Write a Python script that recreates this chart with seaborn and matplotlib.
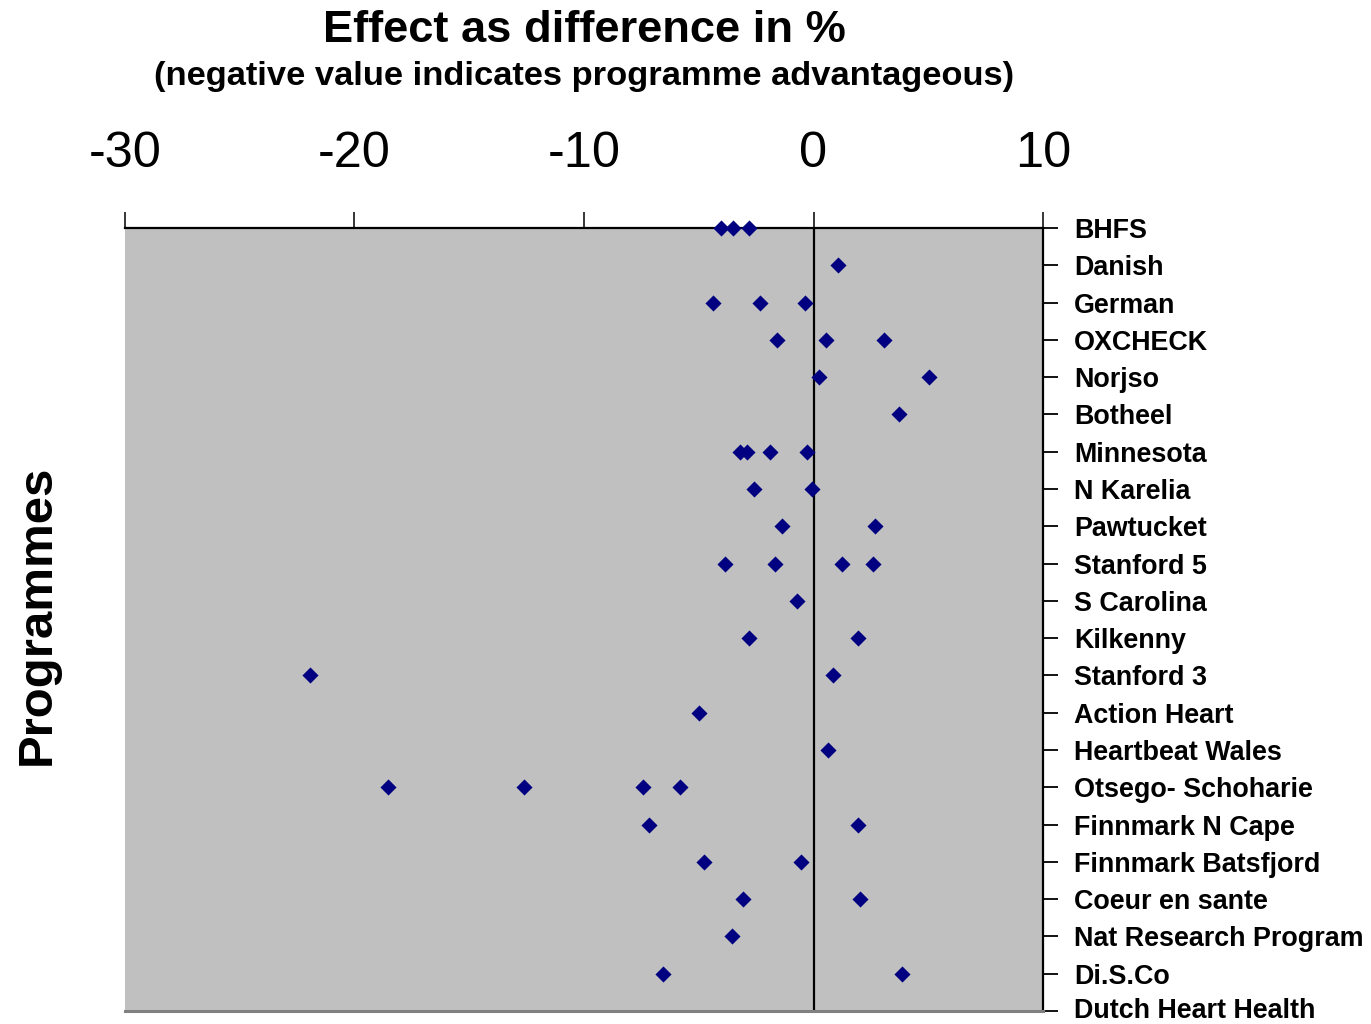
import matplotlib
matplotlib.use("Agg")
import matplotlib.pyplot as plt
import matplotlib.transforms as mtrans
import seaborn as sns
import pandas as pd

programmes = ["BHFS", "Danish", "German", "OXCHECK", "Norjso", "Botheel",
              "Minnesota", "N Karelia", "Pawtucket", "Stanford 5", "S Carolina",
              "Kilkenny", "Stanford 3", "Action Heart", "Heartbeat Wales",
              "Otsego- Schoharie", "Finnmark N Cape", "Finnmark Batsfjord",
              "Coeur en sante", "Nat Research Program", "Di.S.Co",
              "Dutch Heart Health"]

point_programme = (["BHFS"] * 3 + ["Danish"] + ["German"] * 3 + ["OXCHECK"] * 3
                   + ["Norjso"] * 2 + ["Botheel"] + ["Minnesota"] * 4
                   + ["N Karelia"] * 2 + ["Pawtucket"] * 2 + ["Stanford 5"] * 4
                   + ["S Carolina"] + ["Kilkenny"] * 2 + ["Stanford 3"] * 2
                   + ["Action Heart"] + ["Heartbeat Wales"]
                   + ["Otsego- Schoharie"] * 4 + ["Finnmark N Cape"] * 2
                   + ["Finnmark Batsfjord"] * 2 + ["Coeur en sante"] * 2
                   + ["Nat Research Program"] + ["Di.S.Co"] * 2)

point_value = [-4.03, -3.51, -2.79,
               1.05,
               -4.38, -2.34, -0.38,
               -1.60, 0.54, 3.09,
               0.22, 5.04,
               3.73,
               -3.22, -2.90, -1.89, -0.29,
               -2.61, -0.06,
               -1.38, 2.67,
               -3.86, -1.68, 1.25, 2.59,
               -0.72,
               -2.79, 1.92,
               -21.94, 0.87,
               -5.01,
               0.62,
               -18.52, -12.62, -7.43, -5.82,
               -7.16, 1.93,
               -4.78, -0.53,
               -3.07, 2.02,
               -3.57,
               -6.57, 3.85]

x_ticks = [-30, -20, -10, 0, 10]

df = pd.DataFrame({"Programme": point_programme, "Effect": point_value})

sns.set_style("white")
plt.rcParams["font.family"] = ["Liberation Sans", "DejaVu Sans"]
plt.rcParams["text.color"] = "black"
plt.rcParams["xtick.color"] = "black"
plt.rcParams["ytick.color"] = "black"
plt.rcParams["xtick.labelcolor"] = "black"
plt.rcParams["ytick.labelcolor"] = "black"

W, H = 1371, 1024
fig = plt.figure(figsize=(W / 100, H / 100), dpi=100)
ax = fig.add_axes([125 / W, 13 / H, 918 / W, 783 / H])
ax.set_facecolor("#C0C0C0")

sns.stripplot(data=df, x="Effect", y="Programme", order=programmes,
              orient="h", jitter=False, marker="D", s=8.2,
              color="#000080", linewidth=0, ax=ax, zorder=5)
for c in ax.collections:
    c.set_clip_on(False)

ax.axvline(0, color="black", lw=1.6, zorder=2)

ax.set_xlim(-30, 10)
ax.set_ylim(len(programmes) - 1, 0)
ax.set_xticks(x_ticks)
ax.set_xticklabels([str(v) for v in x_ticks])
ax.xaxis.tick_top()
ax.yaxis.tick_right()
ax.set_xlabel("")
ax.set_ylabel("")

ax.tick_params(axis="x", direction="out", length=11.5, width=1.1,
               color="black", labelcolor="black", pad=25, labelsize=36)
ax.tick_params(axis="y", direction="out", length=10.5, width=1.3,
               color="black", labelcolor="black", pad=12, labelsize=19.5)
for lab in ax.get_yticklabels():
    lab.set_fontweight("bold")

ax.spines["left"].set_visible(False)
ax.spines["bottom"].set_color("#808080")
ax.spines["bottom"].set_linewidth(2.2)
for s in ("top", "right"):
    ax.spines[s].set_color("black")
    ax.spines[s].set_linewidth(1.6)

cx = (125 + 1043) / 2 / W
title = fig.text(cx, 1 - 31 / H, "Effect as difference in %", ha="center",
                 va="center", fontsize=32, fontweight="bold", color="black")
subtitle = fig.text(cx, 1 - 76 / H,
                    "(negative value indicates programme advantageous)",
                    ha="center", va="center", fontsize=24, fontweight="bold",
                    color="black")
ylab = fig.text(37 / W, 1 - 615 / H, "Programmes", rotation=90, ha="center",
                va="center", fontsize=35, fontweight="bold", color="black")

# fit text sizes to the reference widths
fig.canvas.draw()
r = fig.canvas.get_renderer()


def fit(t, target, use_height=False):
    bb = t.get_window_extent(r)
    cur = bb.height if use_height else bb.width
    t.set_fontsize(t.get_fontsize() * target / cur)


fit(title, 523)
fit(subtitle, 863)
fit(ylab, 300, use_height=True)
ylabs = ax.get_yticklabels()
ref = [l for l in ylabs if l.get_text() == "Nat Research Program"][0]
bb = ref.get_window_extent(r)
new_size = ref.get_fontsize() * 290 / bb.width
for l in ylabs:
    l.set_fontsize(new_size)
    l.set_color("black")
xl = [l for l in ax.get_xticklabels() if l.get_text() == "-30"][0]
bb = xl.get_window_extent(r)
new_x = xl.get_fontsize() * 73 / bb.width
for l in ax.get_xticklabels():
    l.set_fontsize(new_x)
    l.set_color("black")

# keep the last label just inside the canvas, as in the reference
last = ylabs[-1]
last.set_transform(last.get_transform() +
                   mtrans.ScaledTranslation(0, 2 / 72, fig.dpi_scale_trans))

fig.savefig("out.png", dpi=100, facecolor="white")
